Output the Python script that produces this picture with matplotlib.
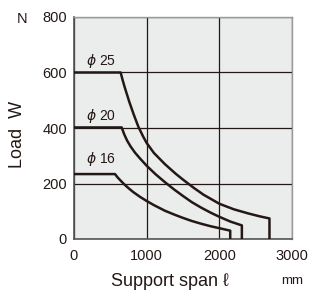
import numpy as np
import matplotlib.pyplot as plt

plt.rcParams['font.family'] = ['Liberation Sans', 'DejaVu Sans']
plt.rcParams['mathtext.fontset'] = 'dejavusans'

INK = '#231815'
BG = '#ebecec'

# support span (mm) vs permissible load (N)
span_25 = [0, 642, 670, 700, 760, 820, 885, 950, 1000, 1100, 1250, 1400, 1500, 1650, 1780, 2000, 2200, 2400, 2550, 2690, 2690]
load_25 = [600, 600, 572, 545, 495, 450, 405, 370, 346, 310, 270, 235, 214, 184, 160, 127, 107, 92, 82, 74, 0]

span_20 = [0, 656, 690, 730, 780, 840, 909, 1000, 1120, 1250, 1380, 1500, 1620, 1750, 1880, 2000, 2150, 2310, 2310]
load_20 = [402, 402, 378, 355, 333, 311, 290, 264, 234, 205, 178, 155, 133, 113, 95, 80, 63, 49, 0]

span_16 = [0, 564, 600, 650, 700, 760, 816, 908, 1000, 1100, 1183, 1250, 1380, 1500, 1620, 1750, 1880, 2000, 2150, 2150]
load_16 = [234, 234, 222, 208, 195, 181, 169, 152, 137, 122, 111, 102, 88, 76, 65, 55, 46, 39, 30, 0]

series = [(span_25, load_25, '25', 627), (span_20, load_20, '20', 429), (span_16, load_16, '16', 273)]

x_ticks = [0, 1000, 2000, 3000]
y_ticks = [0, 200, 400, 600, 800]

fig = plt.figure(figsize=(3.10, 2.93), dpi=100)
ax = fig.add_axes([74 / 310, 1 - 239 / 293, 218 / 310, 222 / 293])
ax.set_facecolor(BG)

for sx, sy, dia, ty in series:
    ax.plot(sx, sy, color=INK, lw=1.8, solid_joinstyle='round', zorder=3)
    ax.text(165, ty, r'$\phi$' + ' ' + dia, fontsize=10, color=INK, va='baseline', ha='left')

ax.set_xlim(0, 3000)
ax.set_ylim(0, 800)
ax.set_xticks(x_ticks)
ax.set_yticks(y_ticks)
ax.grid(True, color=INK, lw=0.9, zorder=1)
ax.set_axisbelow(True)
ax.tick_params(length=0, labelsize=10.5, colors=INK)
ax.tick_params(axis='x', pad=7)
ax.tick_params(axis='y', pad=5)
for side in ['left', 'bottom']:
    ax.spines[side].set_color('#555555')
    ax.spines[side].set_linewidth(1.2)
for side in ['top', 'right']:
    ax.spines[side].set_color('#999999')
    ax.spines[side].set_linewidth(1.0)

fig.text(170 / 310, 1 - 281 / 293, 'Support span \u2113', fontsize=13, color=INK, ha='center', va='center')
fig.text(292 / 310, 1 - 281 / 293, 'mm', fontsize=9.5, color=INK, ha='center', va='center')
fig.text(22 / 310, 1 - 19 / 293, 'N', fontsize=10.5, color=INK, ha='center', va='center')
fig.text(18 / 310, 1 - 134 / 293, 'Load  W', fontsize=13, color=INK, ha='center', va='center', rotation=90)

fig.savefig('out.png', dpi=100, facecolor='white')
